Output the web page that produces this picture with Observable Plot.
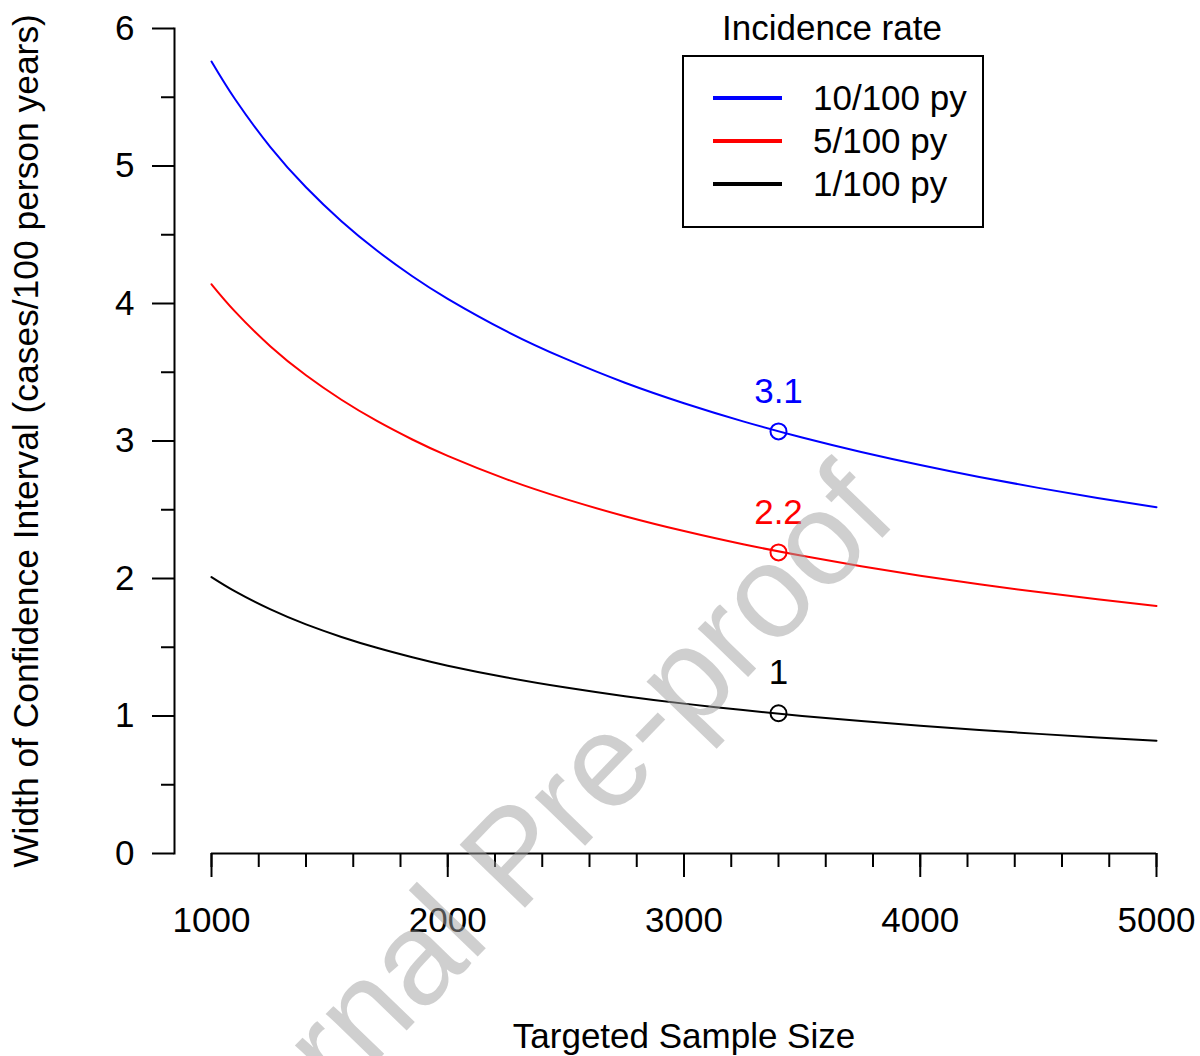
<!DOCTYPE html>
<html>
<head>
<meta charset="utf-8">
<script src="https://cdn.jsdelivr.net/npm/d3@7"></script>
<script src="https://cdn.jsdelivr.net/npm/@observablehq/plot@0.6"></script>
<style>
  html, body { margin: 0; padding: 0; background: #fff; }
  #wrap { position: relative; width: 1200px; height: 1056px; overflow: hidden; font-family: "Liberation Sans", Arial, sans-serif; }
  #legend { position: absolute; left: 0; top: 0; width: 1200px; height: 260px; pointer-events: none; }
  #wm { position: absolute; left: 0; top: 0; width: 1200px; height: 1056px; pointer-events: none; }
</style>
</head>
<body>
<div id="wrap"></div>
<script>
// ---- data ----
const sampleSize = [1000, 1100, 1250, 1400, 1550, 1700, 1850, 2000, 2250, 2500, 2750, 3000, 3250, 3500, 3750, 4000, 4250, 4500, 4750, 5000];
const width10 = [5.760, 5.485, 5.136, 4.845, 4.598, 4.385, 4.198, 4.034, 3.797, 3.597, 3.424, 3.275, 3.143, 3.025, 2.920, 2.825, 2.738, 2.659, 2.586, 2.519];
const width5  = [4.140, 3.941, 3.688, 3.478, 3.300, 3.146, 3.011, 2.892, 2.721, 2.577, 2.453, 2.345, 2.249, 2.165, 2.089, 2.020, 1.958, 1.901, 1.849, 1.800];
const width1  = [2.010, 1.906, 1.775, 1.666, 1.575, 1.496, 1.427, 1.366, 1.280, 1.207, 1.144, 1.090, 1.043, 1.000, 0.963, 0.929, 0.898, 0.870, 0.844, 0.820];
const seriesNames = ["10/100 py", "5/100 py", "1/100 py"];
const seriesColors = ["#0000ff", "#ff0000", "#000000"];
const markN = 3400;
const markValues = [3.07, 2.19, 1.02];
const markLabels = ["3.1", "2.2", "1"];
const xTicks = [1000, 2000, 3000, 4000, 5000];
const yTicks = [0, 1, 2, 3, 4, 5, 6];
const xTitle = "Targeted Sample Size";
const yTitle = "Width of Confidence Interval (cases/100 person years)";
const legendTitle = "Incidence rate";
const watermark = "Journal Pre-proof";

// ---- build ----
const allSeries = [width10, width5, width1];
const rows = [];
allSeries.forEach((vals, i) => vals.forEach((v, j) => rows.push({n: sampleSize[j], w: v, s: seriesNames[i]})));
const marks = seriesNames.map((s, i) => ({n: markN, w: markValues[i], s, label: markLabels[i]}));
const FS = 35;
const FONT = '"Liberation Sans", Arial, sans-serif';

const chart = Plot.plot({
  width: 1200,
  height: 1056,
  marginLeft: 174,
  marginRight: 44,
  marginTop: 28,
  marginBottom: 203,
  style: {fontFamily: FONT, fontSize: FS + "px", color: "#000", background: "#fff"},
  x: {domain: [1000, 5000], range: [211, 1156]},
  y: {domain: [0, 6]},
  color: {domain: seriesNames, range: seriesColors},
  marks: [
    // y axis
    Plot.frame({anchor: "left", stroke: "#000", strokeWidth: 2}),
    Plot.axisY({ticks: yTicks, tickSize: 22, tickPadding: 18, strokeWidth: 2, fontSize: FS, label: null, tickFormat: d => String(d)}),
    Plot.axisY({ticks: d3.range(0.5, 6, 1), tickSize: 13, strokeWidth: 2, text: null, label: null}),
    // x axis
    Plot.ruleY([0], {x1: 1000, x2: 5000, stroke: "#000", strokeWidth: 2}),
    Plot.axisX({ticks: xTicks, tickSize: 24, tickPadding: 30, strokeWidth: 2, fontSize: FS, label: null, tickFormat: d => String(d)}),
    Plot.axisX({ticks: d3.range(1000, 5001, 200), tickSize: 14, strokeWidth: 2, text: null, label: null}),
    // titles
    Plot.text([xTitle], {x: () => 3000, frameAnchor: "bottom", dy: 194, fontSize: FS, text: d => d}),
    Plot.text([yTitle], {frameAnchor: "left", textAnchor: "middle", rotate: -90, dx: -148, fontSize: 35.4, text: d => d}),
    // curves
    Plot.line(rows, {x: "n", y: "w", stroke: "s", z: "s", strokeWidth: 2, curve: "natural"}),
    Plot.dot(marks, {x: "n", y: "w", stroke: "s", r: 8, strokeWidth: 2, fill: "none"}),
    Plot.text(marks, {x: "n", y: "w", text: "label", fill: "s", dy: -40, fontSize: FS})
  ]
});
document.getElementById("wrap").appendChild(chart);

// ---- legend (inside plot area, top right) ----
const ns = "http://www.w3.org/2000/svg";
const leg = document.createElementNS(ns, "svg");
leg.setAttribute("id", "legend");
leg.setAttribute("width", 1200);
leg.setAttribute("height", 260);
leg.setAttribute("font-family", FONT);
leg.setAttribute("font-size", FS);
let html = `<text x="832" y="40" text-anchor="middle">${legendTitle}</text>`;
html += `<rect x="683" y="56" width="300" height="171" fill="none" stroke="#000" stroke-width="2"/>`;
seriesNames.forEach((s, i) => {
  const y = 98 + i * 43;
  html += `<line x1="713" x2="782" y1="${y}" y2="${y}" stroke="${seriesColors[i]}" stroke-width="4"/>`;
  html += `<text x="813" y="${y}" dy="0.35em">${s}</text>`;
});
leg.innerHTML = html;
document.getElementById("wrap").appendChild(leg);

// ---- watermark ----
const wm = document.createElementNS(ns, "svg");
wm.setAttribute("id", "wm");
wm.setAttribute("width", 1200);
wm.setAttribute("height", 1056);
const WFS = 132;
wm.innerHTML = `<text x="0" y="0" transform="translate(492,942) rotate(-46)" font-family='${FONT}' font-size="${WFS}" fill="rgba(160,160,160,0.5)">${watermark}</text>`;
document.getElementById("wrap").appendChild(wm);
// shift so that "Pre-proof" begins at the anchor point
const tmp = document.createElementNS(ns, "text");
tmp.setAttribute("font-size", WFS); tmp.setAttribute("font-family", FONT);
tmp.textContent = "Journal ";
wm.appendChild(tmp);
const pre = tmp.getComputedTextLength();
wm.removeChild(tmp);
wm.querySelector("text").setAttribute("x", -pre);
</script>
</body>
</html>
